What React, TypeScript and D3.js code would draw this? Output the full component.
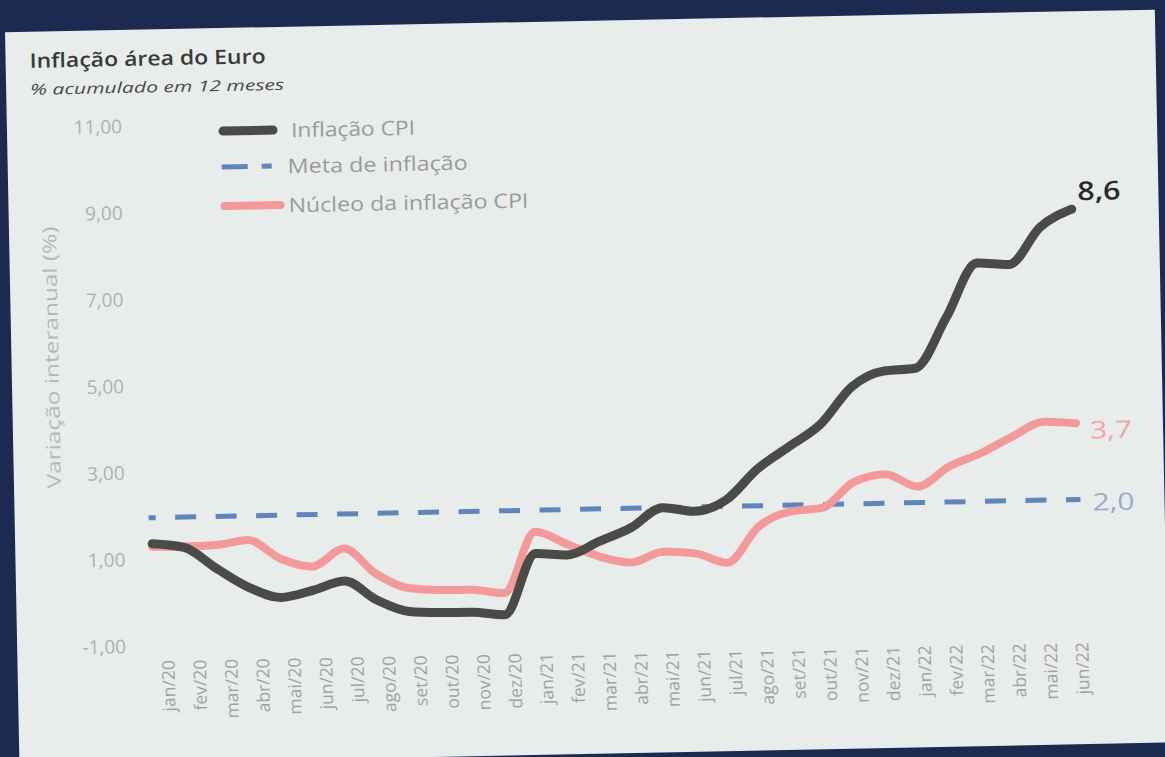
import React from "react";
import * as d3 from "d3";

const months = [
  "jan/20", "fev/20", "mar/20", "abr/20", "mai/20", "jun/20", "jul/20", "ago/20", "set/20", "out/20", "nov/20", "dez/20",
  "jan/21", "fev/21", "mar/21", "abr/21", "mai/21", "jun/21", "jul/21", "ago/21", "set/21", "out/21", "nov/21", "dez/21",
  "jan/22", "fev/22", "mar/22", "abr/22", "mai/22", "jun/22",
];
const cpi = [
  1.4, 1.3, 0.8, 0.35, 0.1, 0.25, 0.45, 0.0, -0.28, -0.32, -0.33, -0.4,
  1.0, 0.95, 1.25, 1.55, 2.0, 1.9, 2.15, 2.85, 3.35, 3.85, 4.7, 5.05,
  5.1, 6.25, 7.5, 7.45, 8.3, 8.7,
];
const core = [
  1.33, 1.32, 1.34, 1.44, 1.0, 0.8, 1.2, 0.6, 0.26, 0.2, 0.19, 0.1,
  1.5, 1.2, 0.9, 0.75, 0.98, 0.93, 0.7, 1.52, 1.85, 1.92, 2.5, 2.67,
  2.37, 2.82, 3.11, 3.48, 3.81, 3.76,
];
const TARGET = 2.0;
const yTicks = [-1, 1, 3, 5, 7, 9, 11];
const endLabels = { cpi: "8,6", core: "3,7", target: "2,0" };
const legendItems = ["Inflação CPI", "Meta de inflação", "Núcleo da inflação CPI"];
const title = "Inflação área do Euro";
const subtitle = "% acumulado em 12 meses";
const yTitle = "Variação interanual (%)";

const W = 1165;
const H = 757;
const FONT = "'Open Sans', 'Noto Sans', sans-serif";
const C_CPI = "#4a4a47";
const C_CORE = "#f4999a";
const C_TARGET = "#5f86bb";

export default function App() {
  const x = d3.scalePoint<string>().domain(months).range([149, 1075]);
  const xLab = d3.scalePoint<string>().domain(months).range([162, 1076]);
  const y = d3.scaleLinear().domain([-1, 11]).range([639.2, 119.2]);
  const line = d3
    .line<number>()
    .x((_, i) => x(months[i]) as number)
    .y((d) => y(d))
    .curve(d3.curveMonotoneX);
  const fmt = (v: number) => v.toFixed(2).replace(".", ",");
  const x0 = x(months[0]) as number;
  const x1 = x(months[months.length - 1]) as number;

  return (
    <div style={{ position: "fixed", left: 0, top: 0, width: W, height: H }}>
      <svg width={W} height={H} style={{ display: "block" }} fontFamily={FONT}>
        <rect x={0} y={0} width={W} height={H} fill="#1c2a52" />
        <g transform="rotate(-1.13, 582, 380)">
          <rect x={12} y={21} width={1150} height={733} fill="#e8edeb" />
          {/* title */}
          <text x={36} y={57} fontSize={20} fontWeight={600} fill="#3a3a3a" textLength={236} lengthAdjust="spacingAndGlyphs">
            {title}
          </text>
          <text x={36} y={84} fontSize={15} fontStyle="italic" fill="#4a4a4a" textLength={254} lengthAdjust="spacingAndGlyphs">
            {subtitle}
          </text>
          {/* y axis title */}
          <text
            transform="translate(52,347) rotate(-90)"
            textAnchor="middle"
            dominantBaseline="central"
            fontSize={19}
            fill="#b8b8b8"
            textLength={262}
            lengthAdjust="spacingAndGlyphs"
          >
            {yTitle}
          </text>
          {/* y ticks */}
          {yTicks.map((t) => (
            <text
              key={t}
              x={124 - 0.012 * (y(t) - 380)}
              y={y(t) - 2}
              textAnchor="end"
              dominantBaseline="central"
              fontSize={19}
              fill="#b0b0b0"
            >
              {fmt(t)}
            </text>
          ))}
          {/* x labels */}
          {months.map((m) => (
            <text
              key={m}
              transform={`translate(${xLab(m)},652) rotate(-90)`}
              textAnchor="end"
              dominantBaseline="central"
              fontSize={17.5}
              fill="#a2a2a2"
            >
              {m}
            </text>
          ))}
          {/* target line */}
          <line
            x1={x0 - 3}
            x2={x1 + 3}
            y1={y(TARGET)}
            y2={y(TARGET)}
            stroke={C_TARGET}
            strokeWidth={5}
            strokeDasharray="21 19.5"
            strokeDashoffset={14}
          />
          {/* core */}
          <path d={line(core) || ""} fill="none" stroke={C_CORE} strokeWidth={8} strokeLinecap="round" strokeLinejoin="round" />
          {/* cpi */}
          <path d={line(cpi) || ""} fill="none" stroke={C_CPI} strokeWidth={9} strokeLinecap="round" strokeLinejoin="round" />
          {/* end labels */}
          <text x={1081} y={200} dominantBaseline="central" fontSize={26} fontWeight={600} fill="#2a2a2a" textLength={43} lengthAdjust="spacingAndGlyphs">
            {endLabels.cpi}
          </text>
          <text x={1089} y={439} dominantBaseline="central" fontSize={24} fill="#f4a3a3" textLength={42} lengthAdjust="spacingAndGlyphs">
            {endLabels.core}
          </text>
          <text x={1090} y={511} dominantBaseline="central" fontSize={24} fill="#98aec8" textLength={42} lengthAdjust="spacingAndGlyphs">
            {endLabels.target}
          </text>
          {/* legend */}
          <line x1={228} x2={278} y1={124} y2={124} stroke={C_CPI} strokeWidth={9} strokeLinecap="round" />
          <text x={296} y={124} dominantBaseline="central" fontSize={20} fill="#9a9a9a" textLength={124} lengthAdjust="spacingAndGlyphs">
            {legendItems[0]}
          </text>
          <line x1={226} x2={280} y1={160} y2={160} stroke={C_TARGET} strokeWidth={5} strokeDasharray="26 14 10" />
          <text x={292} y={160} dominantBaseline="central" fontSize={20} fill="#9a9a9a" textLength={180} lengthAdjust="spacingAndGlyphs">
            {legendItems[1]}
          </text>
          <line x1={228} x2={284} y1={199} y2={199} stroke={C_CORE} strokeWidth={8} strokeLinecap="round" />
          <text x={292} y={199} dominantBaseline="central" fontSize={20} fill="#9a9a9a" textLength={240} lengthAdjust="spacingAndGlyphs">
            {legendItems[2]}
          </text>
        </g>
      </svg>
    </div>
  );
}
